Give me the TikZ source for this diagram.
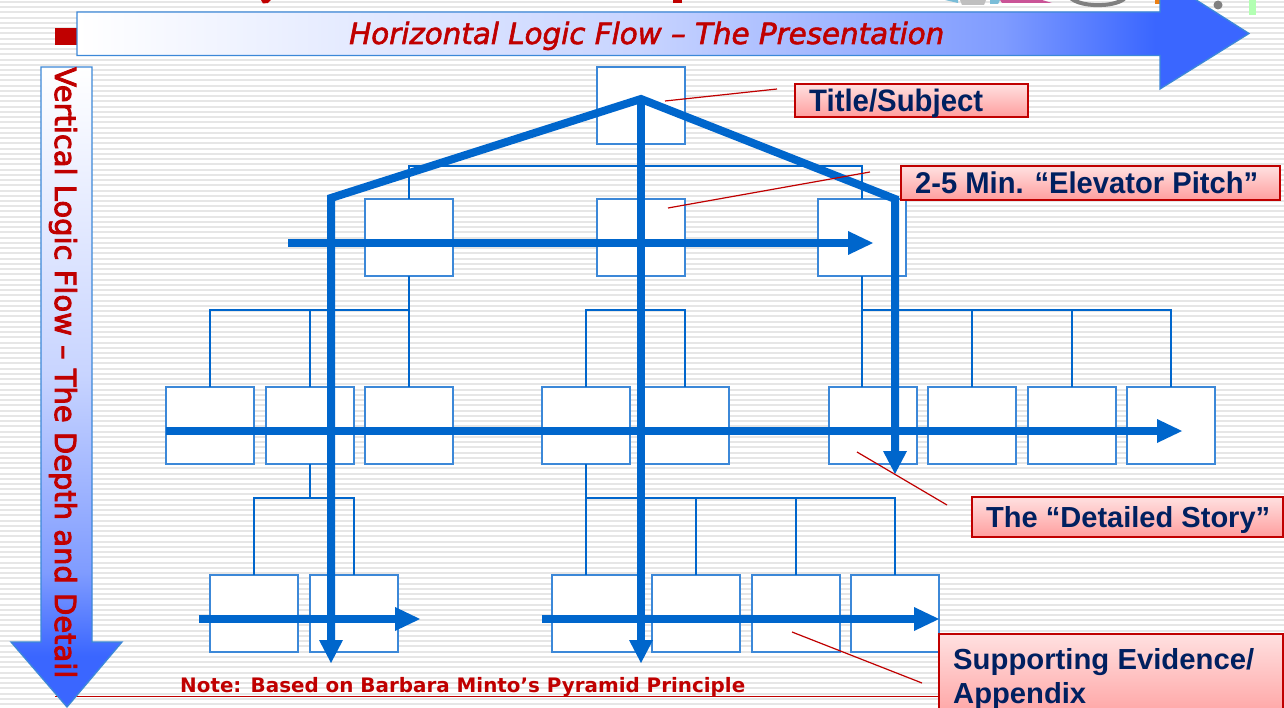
\documentclass[tikz,border=0pt]{standalone}
\usepackage{fontspec}
\usepackage{graphicx}
\setmainfont{Liberation Sans}
\newfontfamily\verd{DejaVu Sans}
\newfontfamily\verdm[FakeBold=2]{DejaVu Sans}
\newfontfamily\verdh[FakeBold=3]{DejaVu Sans}
\usetikzlibrary{calc}
\definecolor{flow}{HTML}{0066CC}
\definecolor{edgeblue}{HTML}{3C88D8}
\definecolor{deepblue}{HTML}{3A66FF}
\definecolor{deck}{HTML}{C00000}
\definecolor{navy}{HTML}{002060}
\definecolor{stripe}{HTML}{E6E6E6}
\pgfdeclarehorizontalshading{hflow}{100bp}{
  color(0bp)=(white); color(25bp)=(white); color(28.5bp)=(white!96!deepblue);
  color(49bp)=(white!72!deepblue); color(64.5bp)=(white!35!deepblue);
  color(71bp)=(deepblue); color(100bp)=(deepblue)}
\pgfdeclareverticalshading{vflow}{100bp}{
  color(0bp)=(deepblue); color(29bp)=(deepblue); color(35.5bp)=(white!35!deepblue);
  color(51bp)=(white!72!deepblue); color(71.5bp)=(white!96!deepblue);
  color(75bp)=(white); color(100bp)=(white)}
\tikzset{
  x=1pt,y=-1pt,
  box/.style={draw=edgeblue,fill=white,line width=1.3pt,minimum width=88pt,minimum height=77pt,inner sep=0pt,outer sep=0pt,anchor=north west},
  link/.style={draw=flow,line width=1.3pt},
  thick flow/.style={draw=flow,line width=8pt},
  leader/.style={draw=deck,line width=1.2pt},
  tag/.style={draw=deck,line width=1.2pt,top color=red!12!white,bottom color=red!38!white,inner sep=0pt,outer sep=0pt,anchor=north west},
  tagtext/.style={anchor=base west,inner sep=0pt,text=navy,font=\bfseries},
}
\begin{document}
\begin{tikzpicture}
\useasboundingbox (0,0) rectangle (1284,708);
\clip (0,0) rectangle (1284,708);
\fill[white] (0,0) rectangle (1284,708);
\foreach \yy in {0,1,...,136}{
  \fill[stripe] (0,{\yy*5.24+0.9}) rectangle (1284,{\yy*5.24+2.9});
}
% cropped fragments at the top edge
\fill[deck] (261,0) -- (271,0) -- (268,3) -- (263,3.5) -- cycle;
\fill[deck] (673,0) rectangle (682,3);
\fill[cyan!50!teal!60] (945,0) -- (958,0) -- (958,3) -- cycle;
\fill[gray!50] (960,0) -- (986,0) -- (984,5) -- (962,5) -- cycle;
\fill[cyan!50!teal!60] (990,0) -- (1000,0) -- (998,4) -- (990,4) -- cycle;
\fill[magenta!60!gray] (1000,0) -- (1042,0) -- (1052,3) -- (1002,3) -- cycle;
\draw[gray,line width=4pt] (1070,-3) arc[start angle=195,end angle=345,x radius=29pt,y radius=11pt];
\fill[orange!70!brown] (1155,0) rectangle (1160,4);
\fill[gray] (1218,5) circle (4.5);
\fill[green!30!white] (1249,0) rectangle (1256,15);
% horizontal flow arrow
\fill[deck] (55,28) rectangle (78,45);
\path[draw=edgeblue,line width=1.3pt,shading=hflow]
  (77,12) -- (1160,12) -- (1160,-23) -- (1249,33.5) -- (1160,89) -- (1160,55.5) -- (77,55.5) -- cycle;
\node[anchor=base west,inner sep=0pt,text=deck] (hlabel) at (349,44) {\resizebox{595pt}{!}{\verdm\itshape Horizontal Logic Flow – The Presentation}};
% note rule
\draw[deck,line width=1.2pt] (55,696.5) -- (939,696.5);
% vertical flow arrow
\path[draw=edgeblue,line width=1.3pt,shading=vflow]
  (41,67) -- (92,67) -- (92,642) -- (122,642) -- (67,707) -- (11,642) -- (41,642) -- cycle;
\node[anchor=base west,rotate=-90,inner sep=0pt,text=deck] (vlabel) at (55,67) {\resizebox{611pt}{!}{\verdh Vertical Logic Flow – The Depth and Detail}};
% bus corners
\coordinate (b1) at (409,166); \coordinate (b2) at (862,166);
\coordinate (c1) at (210,310); \coordinate (c2) at (409,310);
\coordinate (d1) at (586,310); \coordinate (d2) at (685,310);
\coordinate (e1) at (862,310); \coordinate (e2) at (1171,310);
\coordinate (f1) at (254,498); \coordinate (f2) at (354,498);
\coordinate (g1) at (586,498); \coordinate (g2) at (895,498);
% boxes
\node[box] (top) at (597,67) {};
\node[box] (m1) at (365,199) {};
\node[box] (m2) at (597,199) {};
\node[box] (m3) at (818,199) {};
\foreach \nn/\xx in {a/166,b/266,c/365,d/542,e/641,f/829,g/928,h/1028,i/1127}{
  \node[box] (l\nn) at (\xx,387) {};
}
\foreach \nn/\xx in {p/210,q/310,r/552,s/652,t/752,u/851}{
  \node[box] (k\nn) at (\xx,575) {};
}
\draw[link] (top.south) -- (top.south |- b1);
\draw[link] (m1.north) -- (b1) -- (b2) -- (m3.north);
\draw[link] (m2.north) -- (m2.north |- b1);
\draw[link] (m1.south) -- (c2);
\draw[link] (la.north) -- (c1) -- (c2) -- (lc.north);
\draw[link] (lb.north) -- (lb.north |- c1);
\draw[link] (m2.south) -- (m2.south |- d1);
\draw[link] (ld.north) -- (d1) -- (d2) -- (le.north);
\draw[link] (m3.south) -- (e1);
\draw[link] (lf.north -| e1) -- (e1) -- (e2) -- (li.north);
\draw[link] (lg.north) -- (lg.north |- e1);
\draw[link] (lh.north) -- (lh.north |- e1);
\draw[link] (lb.south) -- (lb.south |- f1);
\draw[link] (kp.north) -- (f1) -- (f2) -- (kq.north);
\draw[link] (ld.south) -- (g1) -- (g2) -- (ku.north -| g2);
\draw[link] (g1) -- (kr.north -| g1);
\draw[link] (ks.north) -- (ks.north |- g1);
\draw[link] (kt.north) -- (kt.north |- g1);
% thick flow lines
\coordinate (r0) at (641,99);
\coordinate (rl) at (331,198);
\coordinate (rr) at (895,199);
\coordinate (tl) at (331,663);
\coordinate (tm) at (641,663);
\coordinate (tr) at (895,474);
\draw[thick flow,line join=miter] (331,645) -- (rl) -- (r0) -- (rr) -- (895,455);
\draw[thick flow] (r0) -- (641,645);
\fill[flow] (tl)+(-12,-23) -- (tl) -- +(12,-23) -- cycle;
\fill[flow] (tm)+(-12,-23) -- (tm) -- +(12,-23) -- cycle;
\fill[flow] (tr)+(-12,-23) -- (tr) -- +(12,-23) -- cycle;
\coordinate (h1) at (873,243);
\coordinate (h2) at (1182,431);
\coordinate (h3) at (420,619);
\coordinate (h4) at (939,619);
\draw[thick flow] (288,243) -- (852,243);
\fill[flow] (h1)+(-25,-12) -- (h1) -- +(-25,12) -- cycle;
\draw[thick flow] (166,431) -- (1160,431);
\fill[flow] (h2)+(-25,-12) -- (h2) -- +(-25,12) -- cycle;
\draw[thick flow] (199,619) -- (398,619);
\fill[flow] (h3)+(-25,-12) -- (h3) -- +(-25,12) -- cycle;
\draw[thick flow] (542,619) -- (918,619);
\fill[flow] (h4)+(-25,-12) -- (h4) -- +(-25,12) -- cycle;
% tags
\node[tag,minimum width=233pt,minimum height=33pt] (t1) at (795,84) {};
\node[tagtext] at (809,112) {\fontsize{31pt}{31pt}\selectfont\resizebox{174pt}{\height}{Title/Subject}};
\node[tag,minimum width=379pt,minimum height=34pt] (t2) at (901,166) {};
\node[tagtext] at (915,194) {\fontsize{30pt}{30pt}\selectfont\resizebox{343pt}{\height}{2-5 Min. “Elevator Pitch”}};
\node[tag,minimum width=311pt,minimum height=40pt] (t3) at (972,497) {};
\node[tagtext] at (986,527) {\fontsize{29pt}{29pt}\selectfont\resizebox{284pt}{\height}{The “Detailed Story”}};
\node[tag,minimum width=344pt,minimum height=90pt] (t4) at (939,634) {};
\node[tagtext] at (953,669) {\fontsize{29pt}{29pt}\selectfont\resizebox{301pt}{\height}{Supporting Evidence/}};
\node[tagtext] at (953,703) {\fontsize{29pt}{29pt}\selectfont\resizebox{133pt}{\height}{Appendix}};
% leaders
\draw[leader] (665,101) -- (777,89);
\draw[leader] (668,208) -- (870,172);
\draw[leader] (857,452) -- (947,505);
\draw[leader] (792,632) -- (922,683);
% note
\node[anchor=base west,inner sep=0pt,text=deck] (note) at (180,692) {\resizebox{565pt}{!}{\verd\bfseries Note: Based on Barbara Minto’s Pyramid Principle}};
\end{tikzpicture}
\end{document}
